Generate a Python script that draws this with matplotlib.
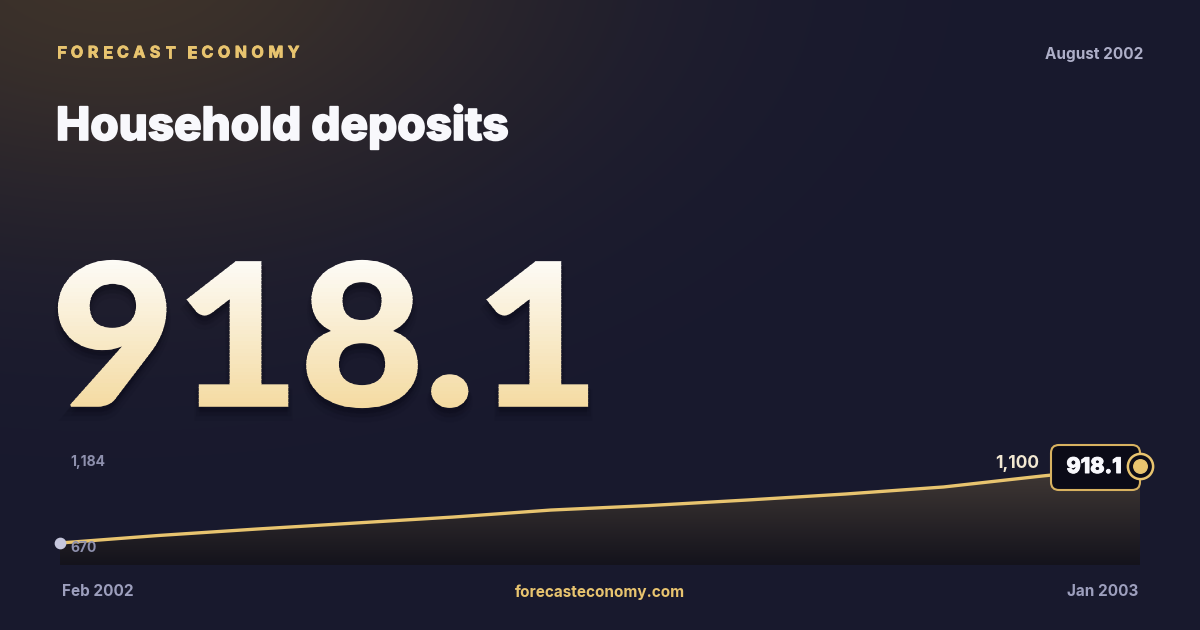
import numpy as np
import matplotlib
matplotlib.use("Agg")
import matplotlib.pyplot as plt
import matplotlib.patheffects as pe
from matplotlib.textpath import TextPath
from matplotlib.font_manager import FontProperties
from matplotlib.patches import PathPatch, FancyBboxPatch, Rectangle
from matplotlib.transforms import Affine2D

# data
months = ["Feb 2002", "Mar 2002", "Apr 2002", "May 2002", "Jun 2002", "Jul 2002",
          "Aug 2002", "Sep 2002", "Oct 2002", "Nov 2002", "Dec 2002", "Jan 2003"]
deposits = [670, 720, 763, 803, 843, 890, 920, 957, 997, 1044, 1117, 1184]
headline = "918.1"
label_mid = "1,100"
y_max_label = "1,184"
y_min_label = "670"

# colours
GOLD = "#e8c46f"
WHITE = "#f8f8fc"
GREY = "#9d9fbd"

W, H = 1200, 630
fig = plt.figure(figsize=(12, 6.3), dpi=100)

# background in pixel coordinates
bg = fig.add_axes([0, 0, 1, 1])
bg.set_xlim(0, W)
bg.set_ylim(H, 0)
bg.axis("off")

yy, xx = np.mgrid[0:H, 0:W]
base = np.array([24, 25, 46]) / 255
warm = np.array([62, 51, 42]) / 255
d2 = ((xx - 110) / 560.0) ** 2 + ((yy + 40) / 330.0) ** 2
w = np.exp(-d2 * 1.6)[..., None]
img = base * (1 - w) + warm * w
bg.imshow(img, extent=[0, W, H, 0], aspect="auto", zorder=0)

fp_bold = FontProperties(family=["Inter", "DejaVu Sans"], weight="bold")
fp_black = FontProperties(family=["Lato", "DejaVu Sans"], weight="black")

# brand with letter spacing
fig.canvas.draw()
renderer = fig.canvas.get_renderer()
x = 57
for ch in "FORECAST ECONOMY":
    if ch == " ":
        x += 7
        continue
    t = bg.text(x, 53, ch, color=GOLD, fontsize=11.5, fontproperties=fp_bold,
                va="center", ha="left", zorder=3,
                path_effects=[pe.withStroke(linewidth=0.6, foreground=GOLD)])
    t.set_fontsize(11.5)
    bb = t.get_window_extent(renderer)
    x += bb.width + 4.6

bg.text(1143, 54, "August 2002", color="#aeafc8", fontsize=11, fontweight="bold",
        family=["Inter", "DejaVu Sans"], ha="right", va="center", zorder=3)

bg.text(56, 140, "Household deposits", color=WHITE, fontsize=33, fontweight="heavy",
        family=["Inter", "DejaVu Sans"], ha="left", va="baseline", zorder=3,
        path_effects=[pe.withStroke(linewidth=1.2, foreground=WHITE)])

# big headline number with vertical gradient
tp = TextPath((0, 0), headline, size=200, prop=fp_black)
ext = tp.get_extents()
sc = 146.0 / ext.height
sx = 528.0 / ext.width
tr = Affine2D().translate(-ext.x0, -ext.y0).scale(sx, -sc).translate(59, 407)
for k, a in [(10, 0.06), (7, 0.08), (4, 0.10)]:
    sh = PathPatch(tp, transform=tr + Affine2D().translate(0, k) + bg.transData,
                   facecolor="#06060e", edgecolor="#06060e", linewidth=k * 0.8,
                   alpha=a, zorder=2)
    bg.add_patch(sh)
top_c = np.array([253, 252, 248]) / 255
bot_c = np.array([244, 218, 160]) / 255
nb = 40
top_y, bot_y = 258, 410
for i in range(nb):
    f = (i + 0.5) / nb
    c = top_c * (1 - f) + bot_c * f
    ya = top_y + (bot_y - top_y) * i / nb
    yb = top_y + (bot_y - top_y) * (i + 1) / nb
    p = PathPatch(tp, transform=tr + bg.transData, facecolor=c, edgecolor=c,
                  linewidth=1.6, zorder=3)
    bg.add_patch(p)
    clip = Rectangle((0, ya - 0.5), W, yb - ya + 1.0, transform=bg.transData)
    p.set_clip_path(clip)

# chart axes
ax = fig.add_axes([60 / W, (H - 565) / H, 1080 / W, 122 / H])
ax.axis("off")
px = 514 / 77.0
ylo, yhi = 670 - 22 * px, 1184 + 23 * px
xs = np.arange(len(deposits))

fill = ax.fill_between(xs, deposits, ylo, facecolor="none", edgecolor="none")
fc_top = np.array([66, 58, 54]) / 255
fc_bot = np.array([20, 19, 28]) / 255
gg = np.linspace(0, 1, 200)[:, None, None]
fgrad = np.repeat(fc_top * (1 - gg) + fc_bot * gg, 2, axis=1)
fim = ax.imshow(fgrad, extent=[0, len(deposits) - 1, ylo, 1184], aspect="auto", zorder=1)
fim.set_clip_path(fill.get_paths()[0], transform=ax.transData)
ax.set_xlim(0, len(deposits) - 1)
ax.set_ylim(ylo, yhi)

ax.plot(xs, deposits, color=GOLD, lw=2.4, solid_capstyle="butt", zorder=3)

# overlay for marks that sit above the line
ov = fig.add_axes([0, 0, 1, 1])
ov.set_xlim(0, W)
ov.set_ylim(H, 0)
ov.axis("off")
ov.patch.set_alpha(0)

# value pill
pill = FancyBboxPatch((1051, 445), 89, 45, boxstyle="round,pad=0,rounding_size=8",
                      facecolor="#0b0b17", edgecolor="#d8b260", linewidth=1.5, zorder=5)
ov.add_patch(pill)
ov.text(1094, 467, headline, color=WHITE, fontsize=15.5, fontweight="heavy",
        family=["Inter", "DejaVu Sans"], ha="center", va="center", zorder=8,
        path_effects=[pe.withStroke(linewidth=0.7, foreground=WHITE)])
ov.text(1039, 463, label_mid, color="#f2e8d2", fontsize=12.5, fontweight="bold",
        family=["Inter", "DejaVu Sans"], ha="right", va="center", zorder=8)

ov.text(70, 462, y_max_label, color="#8e90ad", fontsize=10, fontweight="bold",
        family=["Inter", "DejaVu Sans"], ha="left", va="center", zorder=8)
ov.text(70, 548, y_min_label, color="#8e90ad", fontsize=10, fontweight="bold",
        family=["Inter", "DejaVu Sans"], ha="left", va="center", zorder=8)

# start and end markers
fg = fig.add_axes([60 / W, (H - 565) / H, 1080 / W, 122 / H], sharex=ax, sharey=ax)
fg.axis("off")
fg.patch.set_alpha(0)
fg.scatter([xs[0]], [deposits[0]], s=55, color="#c6c7dd", zorder=4, clip_on=False)
fg.scatter([xs[-1]], [deposits[-1]], s=330, facecolor="#0c0c18", edgecolor=GOLD,
           linewidth=1.8, zorder=6, clip_on=False)
fg.scatter([xs[-1]], [deposits[-1]], s=95, color=GOLD, zorder=7, clip_on=False)

# footer
ov.text(62, 592, months[0], color=GREY, fontsize=11, fontweight="bold",
        family=["Inter", "DejaVu Sans"], ha="left", va="center", zorder=3)
ov.text(1138, 592, months[-1], color=GREY, fontsize=11, fontweight="bold",
        family=["Inter", "DejaVu Sans"], ha="right", va="center", zorder=3)
ov.text(600, 592, "forecasteconomy.com", color=GOLD, fontsize=11, fontweight="bold",
        family=["Inter", "DejaVu Sans"], ha="center", va="center", zorder=3)

fig.savefig("out.png", dpi=100)
